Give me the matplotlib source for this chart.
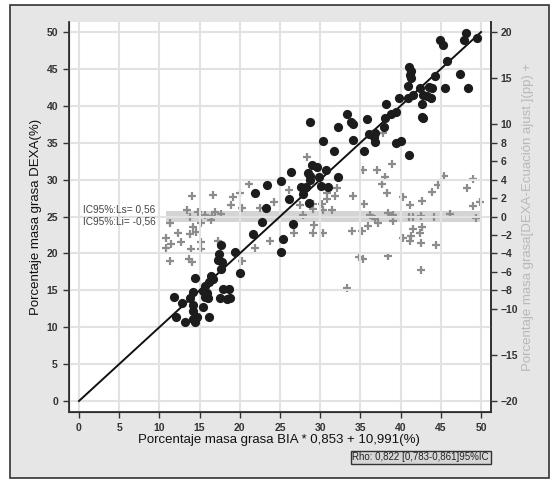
import matplotlib
matplotlib.use("Agg")
import matplotlib.pyplot as plt
from matplotlib.patches import Rectangle

plt.rcParams['font.family'] = ['Liberation Sans', 'DejaVu Sans']

# DEXA vs adjusted BIA (black dots, left axis)
bia_x = [23.4, 21.9, 23.3, 22.8, 21.6, 19.4, 17.7, 17.4, 17.3, 17.8, 17.7, 20.0, 14.4, 16.4,
         16.7, 16.2, 15.7, 15.4, 15.9, 14.2, 17.9, 18.7, 16.0, 15.7, 13.8, 11.8, 12.8, 17.5,
         18.4, 18.8, 14.2, 15.4, 12.1, 14.2, 14.7, 14.2, 14.4, 13.2, 16.2,
         28.7, 33.3, 33.8, 34.1, 32.2, 35.8, 30.3, 34.1, 36.1, 36.8, 36.8, 31.7, 35.4, 29.0,
         29.6, 30.7, 26.4, 28.5, 28.7, 28.7, 29.9, 32.2, 25.1, 27.6, 28.2, 30.1, 31.0, 27.9,
         26.1, 28.6, 26.6, 25.4, 25.1,
         48.1, 47.9, 49.5, 44.9, 45.3, 45.8, 41.0, 41.3, 41.2, 41.3, 44.3, 47.4, 48.4, 45.5,
         42.4, 40.9, 43.5, 43.9, 42.8, 43.3, 43.8, 41.5, 40.9, 39.8, 42.7, 38.2, 39.4, 38.8,
         42.7, 42.8, 38.1, 37.9, 36.7, 40.0, 39.4, 41.0]
dexa_y = [29.3, 28.2, 26.2, 24.3, 22.6, 20.2, 21.1, 19.9, 19.1, 18.8, 17.9, 17.3, 16.7, 16.9,
          16.5, 16.1, 15.6, 14.9, 14.6, 14.8, 15.2, 15.2, 14.0, 14.1, 14.0, 14.1, 13.3, 14.0,
          13.8, 13.9, 13.0, 12.7, 11.4, 12.2, 11.4, 11.1, 10.7, 10.7, 11.4,
          37.8, 38.9, 37.8, 37.5, 37.1, 38.2, 35.2, 35.4, 36.2, 36.3, 35.1, 33.9, 33.9, 32.0,
          31.7, 31.3, 31.0, 30.9, 30.5, 29.9, 30.4, 30.4, 29.8, 29.0, 29.0, 29.1, 29.0, 28.0,
          27.4, 26.8, 24.0, 22.0, 20.2,
          49.9, 48.9, 49.2, 48.9, 48.2, 46.1, 45.3, 44.7, 44.2, 43.8, 44.0, 44.3, 42.4, 42.4,
          42.4, 42.7, 42.5, 42.4, 41.5, 41.3, 41.1, 41.5, 41.1, 41.1, 40.2, 40.2, 39.2, 38.9,
          38.5, 38.3, 38.3, 37.1, 35.8, 35.2, 34.9, 33.3]

# Differences DEXA - adjusted equation (grey crosses, right axis)
diff_x = [21.1, 20.0, 19.2, 14.1, 16.7, 18.9, 20.3, 13.4, 14.8, 15.7, 16.9, 17.7, 13.8, 16.5,
          11.3, 15.2, 16.4, 22.5, 14.2, 14.6, 13.8, 12.3, 10.8, 11.4, 12.7, 10.8, 15.2, 17.3,
          13.9, 15.2, 11.3, 13.7, 14.1, 20.3, 21.9, 23.8,
          28.4, 35.3, 37.1, 26.1, 32.1, 30.8, 31.8, 24.3, 34.1, 30.8, 30.2, 27.5, 29.1, 35.4,
          29.1, 30.3, 31.5, 27.9, 36.2, 36.8, 35.9, 37.2, 29.2, 26.7, 29.1, 30.3, 34.0, 35.2,
          34.8, 35.3, 33.3,
          38.1, 37.7, 38.3, 45.4, 49.0, 48.3, 44.7, 43.9, 40.3, 42.7, 41.2, 49.9, 49.0, 38.4,
          39.1, 39.1, 41.0, 41.5, 42.5, 44.2, 46.1, 49.4, 42.7, 41.5, 42.4, 40.3, 41.3, 41.2,
          42.5, 44.4, 38.4, 42.5, 37.8, 38.9]
diff_y = [3.5, 2.6, 2.1, 2.2, 2.3, 1.3, 0.9, 0.7, 0.5, 0.2, 0.5, 0.3, -0.1, 0.1,
          -0.7, -0.7, -0.4, 0.9, -1.1, -1.7, -1.9, -1.8, -2.3, -3.0, -2.8, -3.4, -2.8, -2.7,
          -3.5, -3.5, -4.8, -4.6, -4.9, -4.8, -3.4, -2.6,
          6.5, 5.0, 5.0, 2.9, 3.1, 2.6, 2.2, 1.6, 2.2, 1.9, 1.4, 1.2, 1.4, 1.4,
          0.8, 0.7, 0.7, 0.2, 0.2, -0.3, -1.0, -0.7, -0.9, -1.8, -1.8, -1.8, -1.6, -1.6,
          -4.4, -4.6, -7.7,
          4.3, 3.5, 2.6, 4.4, 4.1, 3.1, 3.4, 2.7, 2.1, 1.7, 1.2, 1.6, 1.1, 0.4,
          0.2, -0.5, -0.1, -0.1, 0.1, -0.1, 0.3, -0.2, -1.1, -1.3, -1.8, -2.3, -2.1, -2.7,
          -2.9, -3.1, -4.3, -5.8, 9.1, 5.7]

ic_upper = 0.56
ic_lower = -0.56
left_ticks = [0, 5, 10, 15, 20, 25, 30, 35, 40, 45, 50]
right_ticks = [-20, -15, -10, -8, -6, -4, -2, 0, 2, 4, 6, 8, 10, 15, 20]
x_ticks = [0, 5, 10, 15, 20, 25, 30, 35, 40, 45, 50]

W, H = 557, 480
fig = plt.figure(figsize=(W / 100, H / 100), dpi=100, facecolor='white')

# grey panel with dark frame
fig.patches.append(Rectangle((10 / W, 2 / H), 539 / W, 473 / H, transform=fig.transFigure,
                             facecolor='#e6e6e6', edgecolor='#333333', linewidth=1.2, zorder=-10))

ax = fig.add_axes([69 / W, (H - 412) / H, (491 - 69) / W, (412 - 22) / H])
ax.set_xlim(-1.24, 51.24)
ax.set_ylim(-1.49, 51.36)
ax.set_xticks(x_ticks)
ax.set_yticks(left_ticks)
ax.grid(True, color='#e2e2e2', linewidth=1.5)
ax.set_axisbelow(True)
ax.spines['top'].set_visible(False)
for s in ['left', 'bottom', 'right']:
    ax.spines[s].set_color('#333333')
    ax.spines[s].set_linewidth(1.3)
ax.tick_params(axis='both', length=4, width=1, color='#333333', labelsize=7.5,
               labelcolor='#333333', pad=4)
for lab in ax.get_xticklabels() + ax.get_yticklabels():
    lab.set_fontweight('bold')

ax2 = ax.twinx()
ax2.set_ylim((-1.49 - 25) / 1.25, (51.36 - 25) / 1.25)
ax2.set_yticks(right_ticks)
ax2.spines['top'].set_visible(False)
ax2.spines['right'].set_color('#333333')
ax2.spines['right'].set_linewidth(1.3)
ax2.tick_params(axis='y', length=4, width=1, color='#333333', labelsize=7.5,
                labelcolor='#333333', pad=3)
for lab in ax2.get_yticklabels():
    lab.set_fontweight('bold')

# IC band and zero line (right axis)
ax2.fill_between([10.8, 49.9], ic_lower, ic_upper, color='#d4d4d4', linewidth=0, zorder=1)
ax2.plot([10.8, 51.2], [0, 0], color='#9a9a9a', linewidth=1.2, dashes=(6, 4), zorder=2)
ax2.plot(diff_x, diff_y, linestyle='none', marker='+', markersize=5.5, mew=1.6,
         color='#8c8c8c', zorder=3)

# identity / regression line and dots (left axis, drawn on top)
ax.set_zorder(ax2.get_zorder() + 1)
ax.patch.set_visible(False)
ax2.patch.set_visible(True)
ax2.patch.set_facecolor('white')
ax.plot([0, 50], [0, 50], color='#111111', linewidth=1.4, zorder=4)
ax.scatter(bia_x, dexa_y, s=44, color='#1c1c1c', zorder=5, linewidths=0)

ax.text(0.5, 25.9, 'IC95%:Ls= 0,56', fontsize=7.3, color='#444444', va='center', ha='left')
ax.text(0.5, 24.3, 'IC95%:Li= -0,56', fontsize=7.3, color='#444444', va='center', ha='left')

fig.text(36 / W, 1 - 217 / H, 'Porcentaje masa grasa DEXA(%)', rotation=90, fontsize=9.5,
         ha='center', va='center', color='#111111')
fig.text(279 / W, 1 - 440 / H, 'Porcentaje masa grasa BIA * 0,853 + 10,991(%)', fontsize=9.5,
         ha='center', va='center', color='#111111')
fig.text(528 / W, 1 - 217 / H, 'Porcentaje masa grasa[DEXA-Ecuación ajust.](pp) +',
         rotation=90, fontsize=9.5, ha='center', va='center', color='#b8b8b8')
fig.text(489 / W, 1 - 457.5 / H, 'Rho: 0,822 [0,783-0,861]95%IC', fontsize=7,
         ha='right', va='center', color='#222222',
         bbox=dict(boxstyle='square,pad=0.2', facecolor='#d6d6d6', edgecolor='#333333',
                   linewidth=1))

fig.savefig('out.png', dpi=100, facecolor=fig.get_facecolor())
